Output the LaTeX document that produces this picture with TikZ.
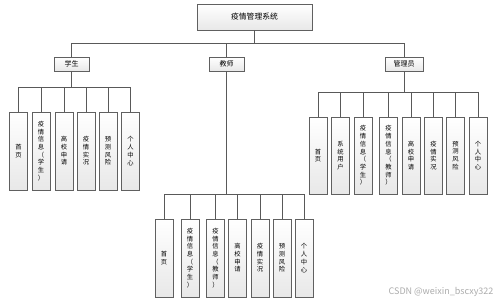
\documentclass[tikz,border=0pt]{standalone}
\usepackage{fontspec}
\setmainfont{Noto Sans CJK SC}
\usetikzlibrary{positioning, shadows}

\tikzset{
  box/.style={draw=gray!75!black, top color=white, bottom color=gray!18, inner sep=0pt,
    drop shadow={shadow xshift=0.8pt, shadow yshift=-0.8pt, opacity=0.35}},
  rootbox/.style={box, minimum width=115pt, minimum height=26pt, font=\fontsize{7.8}{9}\selectfont},
  rolebox/.style={box, minimum width=35pt, minimum height=14pt, font=\fontsize{7}{8}\selectfont},
  leafbox/.style={box, minimum width=18pt, minimum height=78pt, align=center,
    font=\fontsize{6.3}{7.7}\selectfont},
  link/.style={draw=gray!70!black, line width=0.6pt}
}

\begin{document}
\begin{tikzpicture}[x=1pt, y=-1pt]
\fill[white] (0,0) rectangle (499,308);
\useasboundingbox (0,0) rectangle (499,308);

% bus heights
\coordinate (b0) at (0,43);
\coordinate (b1) at (0,87);
\coordinate (b2) at (0,194);
\coordinate (b3) at (0,92);

\node[rootbox] (root) at (254.5,17) {疫情管理系统};
\node[rolebox] (stu) at (71.5,64) {学生};
\node[rolebox] (tch) at (226.5,64) {教师};
\node[rolebox, minimum width=38pt] (adm) at (404,64) {管理员};

\draw[link] (root.south) -- (root.south |- b0);
\draw[link] (root.south |- b0) -| (stu.north);
\draw[link] (root.south |- b0) -| (tch.north);
\draw[link] (root.south |- b0) -| (adm.north);

% student
\draw[link] (stu.south) -- (stu.south |- b1);
\foreach \x/\lbl [count=\i] in {18.5/{首\\页}, 41/{疫\\情\\信\\息\\（\\学\\生\\）},
    64/{高\\校\\申\\请}, 86/{疫\\情\\实\\况}, 108/{预\\测\\风\\险}, 130.5/{个\\人\\中\\心}} {
  \node[leafbox] (s\i) at (\x,151) {\lbl};
  \draw[link] (stu.south |- b1) -| (s\i.north);
}

% teacher
\draw[link] (tch.south) -- (tch.south |- b2);
\foreach \x/\lbl [count=\i] in {164/{首\\页}, 190/{疫\\情\\信\\息\\（\\学\\生\\）},
    215.5/{疫\\情\\信\\息\\（\\教\\师\\）}, 237.5/{高\\校\\申\\请}, 260/{疫\\情\\实\\况},
    282/{预\\测\\风\\险}, 304/{个\\人\\中\\心}} {
  \node[leafbox] (t\i) at (\x,258) {\lbl};
  \draw[link] (tch.south |- b2) -| (t\i.north);
}

% admin
\draw[link] (adm.south) -- (adm.south |- b3);
\foreach \x/\lbl [count=\i] in {318/{首\\页}, 340.5/{系\\统\\用\\户}, 363/{疫\\情\\信\\息\\（\\学\\生\\）},
    388.5/{疫\\情\\信\\息\\（\\教\\师\\）}, 411/{高\\校\\申\\请}, 433.5/{疫\\情\\实\\况},
    455.5/{预\\测\\风\\险}, 478/{个\\人\\中\\心}} {
  \node[leafbox, minimum height=77pt] (a\i) at (\x,155.5) {\lbl};
  \draw[link] (adm.south |- b3) -| (a\i.north);
}

\node[text=gray!65, font=\fontsize{9}{10}\selectfont, anchor=east] (mark) at (497,292) {CSDN @weixin\_bscxy322};
\end{tikzpicture}
\end{document}
